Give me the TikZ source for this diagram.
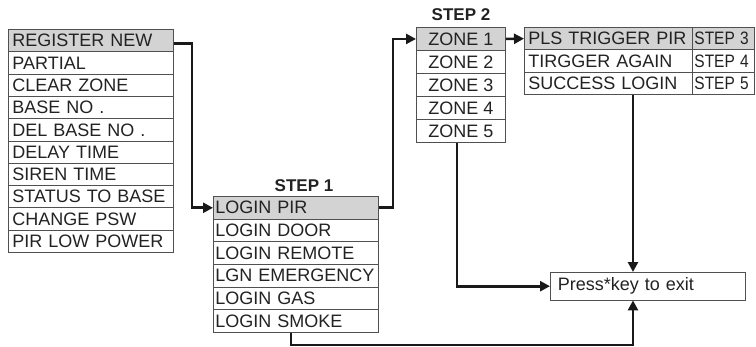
\documentclass[tikz,border=0pt]{standalone}
\usepackage{fontspec}
\usepackage{graphicx}
\setmainfont{Liberation Sans}
\usetikzlibrary{arrows.meta,calc}
\definecolor{boxc}{HTML}{505050}
\definecolor{txt}{HTML}{222222}
\definecolor{hl}{HTML}{D3D3D3}
\newcommand{\nx}[1]{\scalebox{0.86}[1]{#1}}
\begin{document}
\begin{tikzpicture}[x=1pt,y=-1pt,
  cell/.style={draw=boxc, line width=0.9pt, inner ysep=0pt, anchor=north west,
    font=\fontsize{18}{18}\selectfont, text=txt, align=left},
  conn/.style={draw=black!90, line width=2.6pt, line join=miter},
  arr/.style={conn, -{Triangle[length=10pt,width=10pt]}},
  steplabel/.style={font=\bfseries\fontsize{17}{18}\selectfont, text=txt, inner sep=0pt}
]
\useasboundingbox (0,0) rectangle (756,346);

% left column
\node[cell, fill=hl, minimum width=165, minimum height=22.3, text width=157, inner xsep=4pt] (r1) at (8,29) {\mbox{REGISTER NEW}};
\foreach \t [count=\i from 2] in {PARTIAL, CLEAR ZONE, BASE NO ., DEL BASE NO ., DELAY TIME, SIREN TIME, STATUS TO BASE, CHANGE PSW, PIR LOW POWER}
  \node[cell, minimum width=165, minimum height=22.3, text width=157, inner xsep=4pt] (r\i) at (8,{29+(\i-1)*22.3}) {\mbox{\t}};

% step 1
\node[cell, fill=hl, minimum width=165, minimum height=22.67, text width=161, inner xsep=2pt] (p1) at (213,196) {\mbox{LOGIN PIR}};
\foreach \t [count=\i from 2] in {LOGIN DOOR, LOGIN REMOTE, LGN EMERGENCY, LOGIN GAS, LOGIN SMOKE}
  \node[cell, minimum width=165, minimum height=22.67, text width=161, inner xsep=2pt] (p\i) at (213,{196+(\i-1)*22.67}) {\mbox{\t}};
\node[steplabel] (st1) at (304,186) {STEP 1};

% step 2
\node[cell, fill=hl, minimum width=89, minimum height=23, align=center] (z1) at (416,27) {ZONE 1};
\foreach \i in {2,...,5}
  \node[cell, minimum width=89, minimum height=23, align=center] (z\i) at (416,{27+(\i-1)*23}) {ZONE \i};
\node[steplabel] (st2) at (461,15) {STEP 2};

% step 3 table
\node[cell, fill=hl, minimum width=168, minimum height=22.3, text width=160, inner xsep=4pt] (s1) at (524,27) {\mbox{PLS TRIGGER PIR}};
\node[cell, minimum width=168, minimum height=22.3, text width=160, inner xsep=4pt] (s2) at (524,49.3) {\mbox{TIRGGER AGAIN}};
\node[cell, minimum width=168, minimum height=22.3, text width=160, inner xsep=4pt] (s3) at (524,71.6) {\mbox{SUCCESS LOGIN}};
\node[cell, fill=hl, minimum width=62, minimum height=22.3, text width=58, inner xsep=2pt] (t1) at (692,27) {\nx{STEP 3}};
\node[cell, minimum width=62, minimum height=22.3, text width=58, inner xsep=2pt] (t2) at (692,49.3) {\nx{STEP 4}};
\node[cell, minimum width=62, minimum height=22.3, text width=58, inner xsep=2pt] (t3) at (692,71.6) {\nx{STEP 5}};

% exit box
\node[cell, minimum width=195, minimum height=27.5, text width=180, inner xsep=7.5pt] (press) at (550,272) {\mbox{Press*key to exit}};

\coordinate (px) at (633,0);

% connectors
\draw[arr] ([yshift=-3pt]r1.east) -- ++(18,0) |- (p1.west);
\draw[arr] (p1.east) -- ++(14,0) |- (z1.west);
\draw[arr] (z1.east) -- (s1.west);
\draw[arr] (s3.south -| px) -- (press.north -| px);
\draw[arr] ([xshift=-4pt]z5.south) |- (press.west);
\draw[arr] ([xshift=-5pt]p6.south) -- ++(0,12) -| (press.south -| px);
\end{tikzpicture}
\end{document}
